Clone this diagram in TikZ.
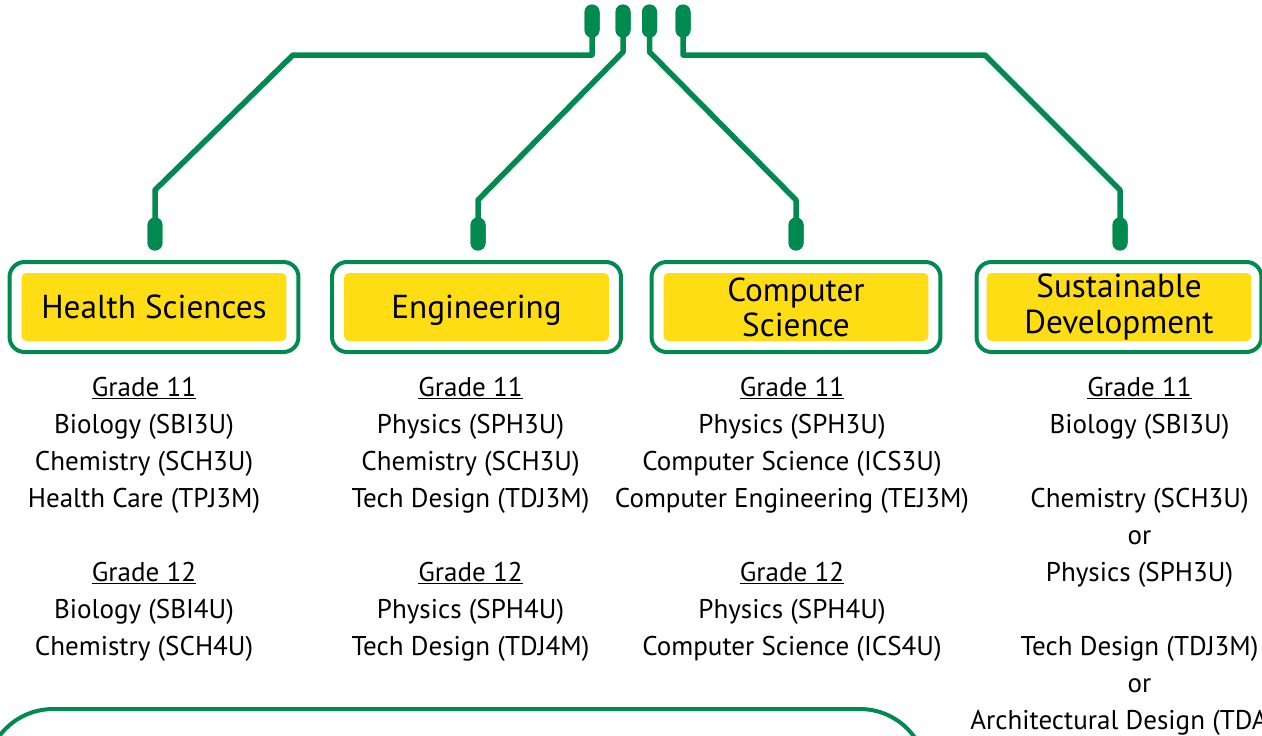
\documentclass[tikz,border=0pt]{standalone}
\usepackage{fontspec}
\setmainfont{PT Sans}
\usepackage{tikz}
\definecolor{green600}{HTML}{008A4F}
\definecolor{yellow500}{HTML}{FFDD15}
\tikzstyle{pad}=[rectangle, rounded corners=0.15cm, fill=green600, minimum width=0.3cm, minimum height=0.66cm, inner sep=0]
\tikzstyle{wire}=[draw=green600, line width=0.11cm, line join=round]
\tikzstyle{boxframe}=[rectangle, rounded corners=0.3cm, draw=green600, line width=0.08cm, fill=white, minimum width=5.78cm, minimum height=1.8cm]
\tikzstyle{boxtitle}=[rectangle, rounded corners=0.1cm, fill=yellow500, minimum width=5.3cm, minimum height=1.36cm, inner sep=0, align=center, font=\fontsize{18.9}{20}\selectfont]
\tikzstyle{courses}=[anchor=base, align=center, inner sep=0, font=\fontsize{15.4}{21.06}\selectfont]

\begin{document}
\begin{tikzpicture}[x=0.02cm, y=-0.02cm]
	\useasboundingbox (0,0) rectangle (1262,735);
	\clip (0,0) rectangle (1262,735);
	\coordinate (a1) at (592,55);
	\coordinate (a2) at (293,55);
	\coordinate (a3) at (155,190);
	\coordinate (b1) at (623,52);
	\coordinate (b2) at (478,200);
	\coordinate (c1) at (649.5,52);
	\coordinate (c2) at (796,200);
	\coordinate (d1) at (683,55);
	\coordinate (d2) at (985,55);
	\coordinate (d3) at (1120,190);
	\node[pad] (t1) at (592,21){};
	\node[pad] (t2) at (623,21){};
	\node[pad] (t3) at (649.5,21){};
	\node[pad] (t4) at (683,21){};
	\node[pad] (h1) at (155,234){};
	\node[pad] (h2) at (478,234){};
	\node[pad] (h3) at (796,234){};
	\node[pad] (h4) at (1120,234){};
	\path[wire] (t1.center) -- (a1) -- (a2) -- (a3) -- (h1.center);
	\path[wire] (t2.center) -- (b1) -- (b2) -- (h2.center);
	\path[wire] (t3.center) -- (c1) -- (c2) -- (h3.center);
	\path[wire] (t4.center) -- (d1) -- (d2) -- (d3) -- (h4.center);
	\node[pad] at (t1){};
	\node[pad] at (t2){};
	\node[pad] at (t3){};
	\node[pad] at (t4){};
	\node[pad] at (h1){};
	\node[pad] at (h2){};
	\node[pad] at (h3){};
	\node[pad] at (h4){};
	\node[boxframe] (f1) at (154,307){};
	\node[boxframe] (f2) at (476.5,307){};
	\node[boxframe] (f3) at (796,307){};
	\node[boxframe, minimum width=5.7cm] (f4) at (1119,307){};
	\node[boxtitle, text depth=0pt] (s1) at (f1){Health Sciences};
	\node[boxtitle, text depth=0pt] (s2) at (f2){Engineering};
	\node[boxtitle] (s3) at (f3){Computer\\Science};
	\node[boxtitle] (s4) at (f4){Sustainable\\Development};
	\node[courses] (g1) at (144,655){\underline{Grade 11}\\Biology (SBI3U)\\Chemistry (SCH3U)\\Health Care (TPJ3M)\\~\\\underline{Grade 12}\\Biology (SBI4U)\\Chemistry (SCH4U)};
	\node[courses] (g2) at (470.5,655){\underline{Grade 11}\\Physics (SPH3U)\\Chemistry (SCH3U)\\Tech Design (TDJ3M)\\~\\\underline{Grade 12}\\Physics (SPH4U)\\Tech Design (TDJ4M)};
	\node[courses] (g3) at (792,655){\underline{Grade 11}\\Physics (SPH3U)\\Computer Science (ICS3U)\\Computer Engineering (TEJ3M)\\~\\\underline{Grade 12}\\Physics (SPH4U)\\Computer Science (ICS4U)};
	\node[courses] (g4) at (1139.5,692){\underline{Grade 11}\\Biology (SBI3U)\\~\\Chemistry (SCH3U)\\or\\Physics (SPH3U)\\~\\Tech Design (TDJ3M)\\or};
	\node[courses, anchor=base west] (g5) at (970,729){Architectural Design (TDA};
	\node[boxframe, minimum width=18.82cm, minimum height=4cm, rounded corners=1.34cm] (notes) at (456.5,809){};
\end{tikzpicture}
\end{document}
